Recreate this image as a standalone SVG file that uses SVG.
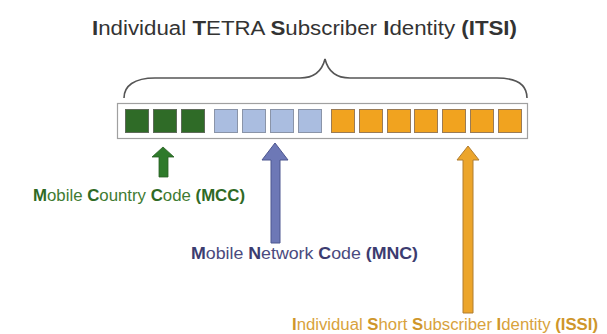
<svg xmlns="http://www.w3.org/2000/svg" width="607" height="334" viewBox="0 0 607 334">
  <style>
    text { font-family: "Liberation Sans", Arial, sans-serif; }
    .b { font-weight: bold; }
    .sq-g { fill: #2f6b27; stroke: #5d6a58; stroke-width: 1; }
    .sq-b { fill: #aabde0; stroke: #8a94a8; stroke-width: 1; }
    .sq-o { fill: #f1a31f; stroke: #9a7b55; stroke-width: 1; }
  </style>
  <rect width="607" height="334" fill="#ffffff"/>

  <g id="title">
    <text x="92" y="35" font-size="20" fill="#333333" textLength="425" lengthAdjust="spacingAndGlyphs"><tspan class="b">I</tspan>ndividual <tspan class="b">T</tspan>ETRA <tspan class="b">S</tspan>ubscriber <tspan class="b">I</tspan>dentity <tspan class="b">(ITSI)</tspan></text>
  </g>

  <g id="itsi-field">
    <rect x="117.5" y="103.5" width="410" height="35" fill="#ffffff" stroke="#a0a0a0" stroke-width="1.2"/>
    <rect class="sq-g" x="125.5" y="109.5" width="23" height="23"/>
    <rect class="sq-g" x="153.5" y="109.5" width="23" height="23"/>
    <rect class="sq-g" x="181.5" y="109.5" width="23" height="23"/>
    <rect class="sq-b" x="214.5" y="109.5" width="23" height="23"/>
    <rect class="sq-b" x="242.5" y="109.5" width="23" height="23"/>
    <rect class="sq-b" x="270.5" y="109.5" width="23" height="23"/>
    <rect class="sq-b" x="298.5" y="109.5" width="23" height="23"/>
    <rect class="sq-o" x="331.5" y="109.5" width="23" height="23"/>
    <rect class="sq-o" x="359.5" y="109.5" width="23" height="23"/>
    <rect class="sq-o" x="387.5" y="109.5" width="23" height="23"/>
    <rect class="sq-o" x="414.5" y="109.5" width="23" height="23"/>
    <rect class="sq-o" x="442.5" y="109.5" width="23" height="23"/>
    <rect class="sq-o" x="470.5" y="109.5" width="23" height="23"/>
    <rect class="sq-o" x="498.5" y="109.5" width="23" height="23"/>
  </g>

  <g id="mcc">
    <text x="33" y="201" font-size="16" fill="#3f7b32" textLength="212" lengthAdjust="spacingAndGlyphs"><tspan class="b" fill="#2f6a25">M</tspan>obile <tspan class="b" fill="#2f6a25">C</tspan>ountry <tspan class="b" fill="#2f6a25">C</tspan>ode <tspan class="b" fill="#2f6a25">(MCC)</tspan></text>
  </g>

  <g id="mnc">
    <text x="191" y="259" font-size="16" fill="#4a4a7e" textLength="227" lengthAdjust="spacingAndGlyphs"><tspan class="b" fill="#3c3c70">M</tspan>obile <tspan class="b" fill="#3c3c70">N</tspan>etwork <tspan class="b" fill="#3c3c70">C</tspan>ode <tspan class="b" fill="#3c3c70">(MNC)</tspan></text>
  </g>

  <g id="issi">
    <text x="292" y="330" font-size="16" fill="#d8a23c" textLength="306" lengthAdjust="spacingAndGlyphs"><tspan class="b" fill="#cf962a">I</tspan>ndividual <tspan class="b" fill="#cf962a">S</tspan>hort <tspan class="b" fill="#cf962a">S</tspan>ubscriber <tspan class="b" fill="#cf962a">I</tspan>dentity <tspan class="b" fill="#cf962a">(ISSI)</tspan></text>
  </g>

  <g id="connectors">
    <path d="M124,98 C124,86 134,78 155,78 L300,78 C315,78 322,71 325,59 C328,71 335,78 350,78 L497,78 C518,78 527,86 527,98" fill="none" stroke="#555555" stroke-width="1.6"/>
    <polygon points="163,147 174,157 168,157 168,177 159,177 159,157 152,157" fill="#2e7a2a" stroke="#2a5f25" stroke-width="0.8"/>
    <polygon points="275,143 288,160 280,160 280,243 271,243 271,160 262,160" fill="#6d78b6" stroke="#4d568f" stroke-width="1"/>
    <polygon points="468,146 479,160 473,160 473,313 463,313 463,160 457,160" fill="#eca52b" stroke="#b07d30" stroke-width="1"/>
  </g>
</svg>
